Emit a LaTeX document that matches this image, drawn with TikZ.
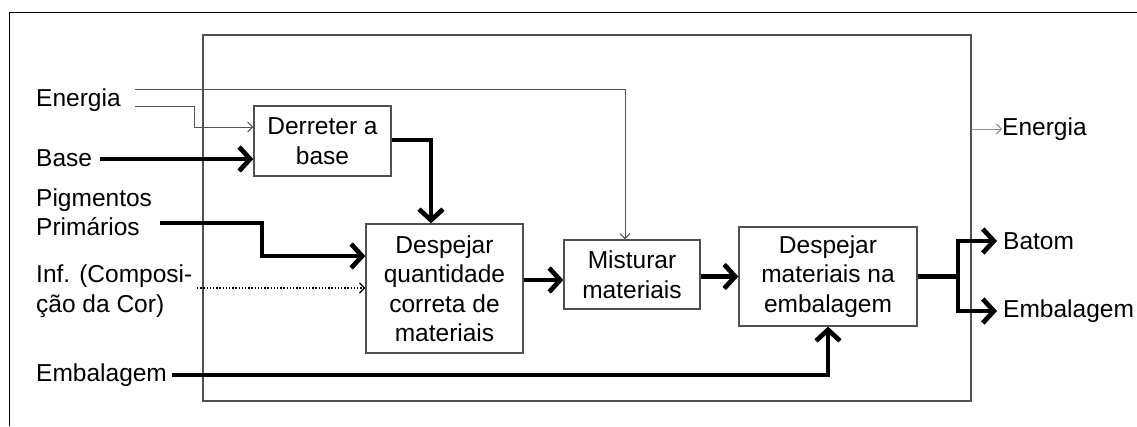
\documentclass[tikz,border=0pt]{standalone}
\usepackage{fontspec}
\setmainfont{Liberation Sans}
\usetikzlibrary{arrows.meta}
\definecolor{boxgray}{HTML}{505050}
\definecolor{linegray}{HTML}{555555}
\definecolor{lightgray2}{HTML}{8C8C8C}
\begin{document}
\begin{tikzpicture}[x=1pt,y=-1pt,
  every node/.style={font=\fontsize{24.5}{29.5}\selectfont, text=black},
  proc/.style={draw=boxgray, line width=1.3pt, align=center, inner sep=0pt},
  thickflow/.style={line width=4.7pt, line join=miter, -{Straight Barb[length=11pt,width=24pt]}},
  thickline/.style={line width=4.7pt, line join=miter},
  thinflow/.style={draw=linegray, line width=1pt, -{Straight Barb[length=5pt,width=10pt]}},
  lbl/.style={anchor=west, inner sep=0pt, align=left}]
\useasboundingbox (0,0) rectangle (1137,426);
% outer frame
\draw[line width=1pt] (9.5,426) -- (9.5,12) -- (1137,12);
% system boundary
\draw[draw=boxgray, line width=1.3pt] (203,35) rectangle (971,401);
% processes
\node[proc, minimum width=137pt, minimum height=70pt] (der) at (322.5,141) {Derreter a\\base};
\node[proc, minimum width=157pt, minimum height=129pt] (dq) at (444.5,288.5) {Despejar\\quantidade\\correta de\\materiais};
\node[proc, minimum width=136pt, minimum height=69pt] (mis) at (632,274.5) {Misturar\\materiais};
\node[proc, minimum width=178pt, minimum height=99pt] (dm) at (828,276.5) {Despejar\\materiais na\\embalagem};
% left labels
\node[lbl] (len) at (36,100) {Energia};
\node[lbl] (lba) at (36,158) {Base};
\node[lbl] (lpi) at (36,212) {Pigmentos\\Primários};
\node[lbl] (lin) at (36,291) {Inf. (Composi-\\ção da Cor)};
\node[lbl] (lem) at (36,375) {Embalagem};
% right labels
\node[lbl] (ren) at (1002,129) {Energia};
\node[lbl] (rba) at (1003,241) {Batom};
\node[lbl] (rem) at (1003,311) {Embalagem};
% coordinates
\coordinate (eA) at (625,89);
\coordinate (eB) at (194,106);
\coordinate (pA) at (262,223);
\coordinate (dA) at (431,140);
\coordinate (sA) at (958,276.5);
% energy connectors
\draw[thinflow] (len.east |- eA) ++(14,0) -- (eA) -- (mis.north -| eA);
\draw[thinflow] (len.east |- eB) ++(14,0) -- (eB) |- (der.west |- 0,127);
\draw[draw=lightgray2, line width=1pt, -{Straight Barb[length=5pt,width=10pt]}] (971,129) -- (ren.west);
% material connectors
\draw[thickflow] ([xshift=8pt]lba.east |- 0,159) -- (der.west |- 0,159);
\draw[thickflow] (der.east |- dA) -- (dA) -- (dq.north -| dA);
\draw[thickflow] ([xshift=8pt]lpi.east |- pA) -- (pA) |- (dq.west |- 0,256);
\draw[dash pattern=on 1.3pt off 1.9pt, line width=1.3pt, -{Straight Barb[length=5pt,width=10pt]}] (197,288) -- (dq.west |- 0,288);
\draw[thickflow] ([xshift=5pt]lem.east) -| (dm.south);
\draw[thickflow] (dq.east |- 0,280) -- (mis.west |- 0,280);
\draw[thickflow] (mis.east |- dm.west) -- (dm.west);
\draw[thickline] (dm.east) -- (sA);
\draw[thickflow] (sA) |- ([xshift=-6pt]rba.west);
\draw[thickflow] (sA) |- ([xshift=-6pt]rem.west);
\end{tikzpicture}
\end{document}
